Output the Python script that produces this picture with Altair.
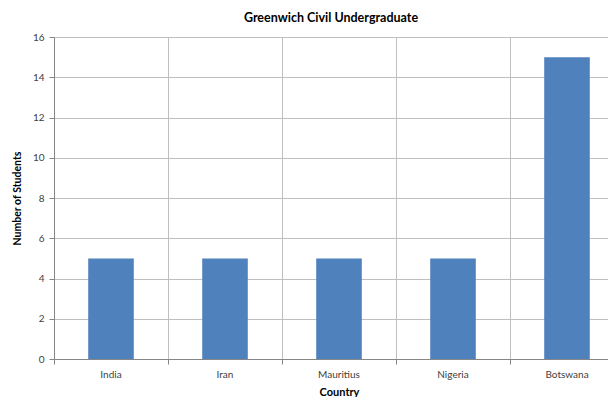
import altair as alt
import pandas as pd

countries = ["India", "Iran", "Mauritius", "Nigeria", "Botswana"]
students = [5, 5, 5, 5, 15]

df = pd.DataFrame({"Country": countries, "Students": students})

FONT = "Lato"

chart = alt.Chart(df).mark_bar(color="#4F81BD", width={"band": 0.4}).encode(
    x=alt.X(
        "Country:N",
        sort=countries,
        scale=alt.Scale(paddingInner=0, paddingOuter=0, range=[0, 570]),
        axis=alt.Axis(
            title="Country",
            bandPosition=0,
            labelAngle=0,
            grid=True,
            gridColor="#BFBFBF",
            domainColor="#868686",
            tickColor="#868686",
            tickSize=5,
            labelPadding=5,
            labelFontSize=10,
            labelColor="#404040",
            titleFontSize=11,
            titleFontWeight="bold",
            titleColor="#000000",
            titlePadding=7,
        ),
    ),
    y=alt.Y(
        "Students:Q",
        scale=alt.Scale(domain=[0, 16]),
        axis=alt.Axis(
            title="Number of Students",
            values=[0, 2, 4, 6, 8, 10, 12, 14, 16],
            grid=True,
            gridColor="#BFBFBF",
            domainColor="#868686",
            tickColor="#868686",
            tickSize=5,
            labelPadding=5,
            labelFontSize=10,
            labelColor="#404040",
            titleFontSize=10.5,
            titleFontWeight="bold",
            titleColor="#000000",
            titlePadding=10,
        ),
    ),
).properties(
    width=554,
    height=322,
    autosize=alt.AutoSizeParams(type="none"),
    padding={"left": 46, "top": 29, "right": 0, "bottom": 38},
    title=alt.TitleParams(
        "Greenwich Civil Undergraduate",
        fontSize=12.5,
        fontWeight="bold",
        font=FONT,
        color="#000000",
        offset=8,
    ),
).configure(font=FONT).configure_view(stroke=None)

chart.save("out.html", embed_options={"renderer": "svg", "actions": False})
